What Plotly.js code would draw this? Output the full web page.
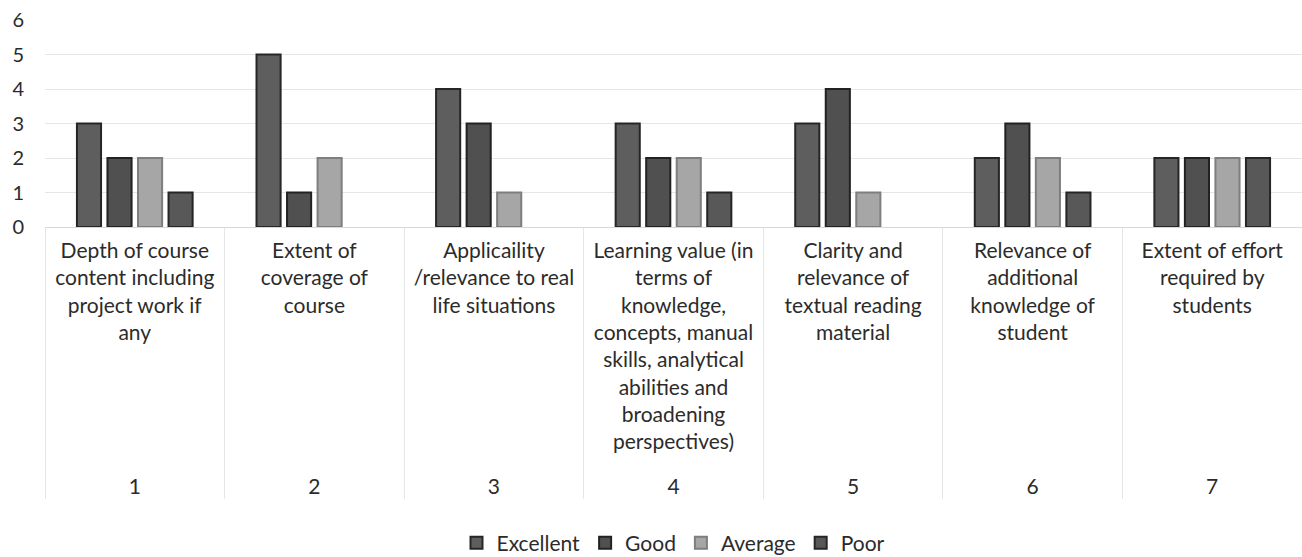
<!DOCTYPE html>
<html>
<head>
<meta charset="utf-8">
<script src="https://cdn.plot.ly/plotly-3.0.1.min.js"></script>
<style>html,body{margin:0;padding:0;background:#fff;}#chart{width:1302px;height:557px;}</style>
</head>
<body>
<div id="chart"></div>
<script>
const groupNumbers = ["1", "2", "3", "4", "5", "6", "7"];
const categories = [
  "Depth of course<br>content including<br>project work if<br>any",
  "Extent of<br>coverage of<br>course",
  "Applicaility<br>/relevance to real<br>life situations",
  "Learning value (in<br>terms of<br>knowledge,<br>concepts, manual<br>skills, analytical<br>abilities and<br>broadening<br>perspectives)",
  "Clarity and<br>relevance of<br>textual reading<br>material",
  "Relevance of<br>additional<br>knowledge of<br>student",
  "Extent of effort<br>required by<br>students"
];
const excellent = [3, 5, 4, 3, 3, 2, 2];
const good      = [2, 1, 3, 2, 4, 3, 2];
const average   = [2, 2, 1, 2, 1, 2, 2];
const poor      = [1, 0, 0, 1, 0, 1, 2];
const seriesNames = ["Excellent", "Good", "Average", "Poor"];
const yTicks = [0, 1, 2, 3, 4, 5, 6];

const fills = ["#5e5e5e", "#505050", "#a6a6a6", "#585858"];
const lines = ["#262626", "#222222", "#7e7e7e", "#262626"];
const values = [excellent, good, average, poor];

// outer level (numbers) pushed one line lower, as in the reference
const x = [groupNumbers.map(n => "<br>" + n), categories];
const traces = values.map((v, i) => ({
  type: "bar",
  name: seriesNames[i],
  x: x,
  y: v,
  marker: {color: fills[i], line: {color: lines[i], width: v.map(d => d > 0 ? 2 : 0)}},
  hoverinfo: "skip"
}));

const FONT = "Lato, 'Open Sans', sans-serif";
const layout = {
  width: 1302, height: 557,
  margin: {l: 45, r: 0, t: 20, b: 330},
  paper_bgcolor: "#fff", plot_bgcolor: "#fff",
  barmode: "group", bargap: 0.32, bargroupgap: 0.21,
  font: {family: FONT, color: "#2b2b2b", size: 21},
  xaxis: {
    type: "multicategory",
    showline: false, showgrid: false, zeroline: false,
    ticks: "", ticklabelstandoff: 9,
    showdividers: true, dividercolor: "#e6e6e6", dividerwidth: 1,
    tickfont: {family: FONT, size: 21, color: "#2b2b2b"}
  },
  yaxis: {
    range: [0, 6], tickvals: yTicks, ticktext: yTicks.map(String),
    showgrid: true, gridcolor: "#e6e6e6", gridwidth: 1,
    zeroline: true, zerolinecolor: "#d8d8d8", showline: false,
    ticklabelstandoff: 20,
    tickfont: {family: FONT, size: 20, color: "#2b2b2b"},
    automargin: false
  },
  legend: {
    orientation: "h", x: 0.5, xanchor: "center",
    yref: "container", y: 0.025, yanchor: "middle",
    font: {family: FONT, size: 21, color: "#2b2b2b"},
    itemwidth: 30, traceorder: "normal"
  },
  showlegend: true
};

Plotly.newPlot("chart", traces, layout, {displayModeBar: false, staticPlot: true});
</script>
</body>
</html>
